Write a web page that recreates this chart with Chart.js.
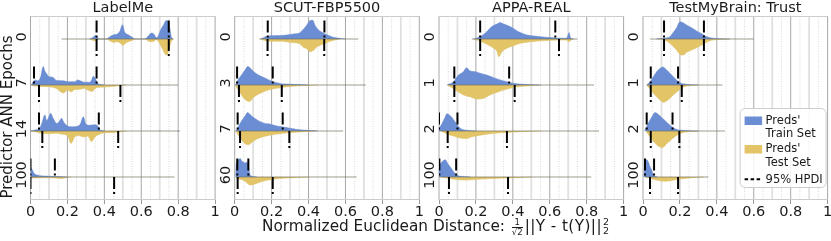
<!DOCTYPE html>
<html>
<head>
<meta charset="utf-8">
<script src="https://cdn.jsdelivr.net/npm/chart.js@4.4.1/dist/chart.umd.min.js"></script>
<style>
  html, body { margin: 0; padding: 0; background: #fff; overflow: hidden; }
  #wrap { position: relative; width: 831px; height: 241px; }
  canvas { position: absolute; top: 0; }
  #xtitle {
    position: absolute; left: 262px; top: 217px;
    font-family: 'DejaVu Sans'; font-size: 15.3px; color: #1a1a1a; white-space: nowrap;
  }
  .frac { display: inline-block; vertical-align: -0.45em; text-align: center; font-size: 8.5px; line-height: 8.5px; margin: 0 2px; }
  .frac span { display: block; }
  .frac .num { border-bottom: 0.8px solid #1a1a1a; padding: 0 1px; }
  .math { letter-spacing: 0.4px; }
  .ss { display: inline-block; vertical-align: -0.35em; font-size: 9.5px; line-height: 9px; margin-left: 1px; }
  .ss span { display: block; }
</style>
</head>
<body>
<div id="wrap">
  <canvas id="c0"></canvas>
  <canvas id="c1"></canvas>
  <canvas id="c2"></canvas>
  <canvas id="c3"></canvas>
  <div id="xtitle">Normalized Euclidean Distance: <span class="frac"><span class="num">1</span><span>&#8730;2</span></span><span class="math">||Y - t(Y)||</span><span class="ss"><span>2</span><span>2</span></span></div>
</div>
<script>
/* --------------------------------------------------
   Data: split violins (train above / test below)
   each curve = [[x, relative height], ...]
   -------------------------------------------------- */
var PANEL_TITLES = ['LabelMe', 'SCUT-FBP5500', 'APPA-REAL', 'TestMyBrain: Trust'];
var EPOCH_LABELS = [
  ['0', '7', '14', '100'],
  ['0', '3', '7', '60'],
  ['0', '1', '2', '100'],
  ['0', '1', '2', '100'],
];
var X_TICKS = [0, 0.2, 0.4, 0.6, 0.8, 1];
var X_TICK_LABELS = ['0', '0.2', '0.4', '0.6', '0.8', '1'];

// LabelMe
var labelmeTrain = [
  [[0.32,0],[0.34,0.08],[0.35,0.15],[0.365,0.05],[0.375,0],[0.41,0],[0.43,0.1],[0.45,0.18],[0.47,0.22],[0.485,0.35],[0.498,0.62],[0.51,0.3],[0.53,0.18],[0.55,0.08],[0.57,0],[0.62,0],[0.64,0.15],[0.655,0.26],[0.67,0.2],[0.683,0.05],[0.69,0.1],[0.705,0.4],[0.72,0.6],[0.735,0.8],[0.745,0.78],[0.755,0.45],[0.765,0.05],[0.775,0]],
  [[0.005,0],[0.015,0.15],[0.025,0.22],[0.04,0.18],[0.055,0.35],[0.069,0.8],[0.078,0.6],[0.087,0.5],[0.1,0.36],[0.12,0.34],[0.14,0.2],[0.18,0.18],[0.2,0.14],[0.24,0.14],[0.255,0.22],[0.27,0.18],[0.29,0.12],[0.32,0.12],[0.33,0.2],[0.34,0.38],[0.35,0.3],[0.36,0.12],[0.37,0.03],[0.4,0]],
  [[0,0],[0.03,0.05],[0.05,0.12],[0.06,0.3],[0.078,0.7],[0.088,0.45],[0.096,0.55],[0.109,0.77],[0.123,0.55],[0.141,0.33],[0.155,0.4],[0.168,0.55],[0.18,0.38],[0.195,0.25],[0.22,0.18],[0.25,0.2],[0.27,0.3],[0.286,0.62],[0.3,0.3],[0.32,0.25],[0.345,0.27],[0.36,0.25],[0.37,0.15],[0.38,0.03],[0.4,0]],
  [[0,0.4],[0.01,0.3],[0.02,0.15],[0.04,0.08],[0.08,0.04],[0.15,0.02],[0.2,0]],
];
var labelmeTest = [
  [[0.32,0],[0.35,0.08],[0.375,0],[0.41,0],[0.43,0.08],[0.45,0.15],[0.47,0.12],[0.49,0.2],[0.5,0.27],[0.52,0.15],[0.55,0.06],[0.57,0],[0.62,0],[0.64,0.1],[0.66,0.12],[0.683,0.03],[0.69,0.08],[0.71,0.35],[0.725,0.6],[0.735,0.7],[0.75,0.5],[0.76,0.15],[0.775,0]],
  [[0.005,0],[0.02,0.04],[0.06,0.06],[0.1,0.08],[0.14,0.15],[0.165,0.3],[0.18,0.35],[0.2,0.22],[0.22,0.3],[0.24,0.2],[0.27,0.18],[0.29,0.14],[0.31,0.22],[0.335,0.28],[0.35,0.15],[0.38,0.1],[0.42,0.08],[0.46,0.05],[0.49,0.02],[0.52,0]],
  [[0,0],[0.03,0.04],[0.06,0.1],[0.1,0.12],[0.14,0.1],[0.17,0.14],[0.2,0.2],[0.22,0.54],[0.24,0.25],[0.26,0.2],[0.29,0.26],[0.31,0.22],[0.33,0.46],[0.35,0.25],[0.37,0.15],[0.4,0.08],[0.45,0.06],[0.49,0.03],[0.52,0]],
  [[0,0.05],[0.03,0.04],[0.08,0.03],[0.13,0.04],[0.16,0.06],[0.18,0.05],[0.2,0.01],[0.22,0]],
];
var labelmeHpdiTrain = [[0.358,0.749],[0.019,0.358],[0.046,0.37],[0,0.132]];
var labelmeHpdiTest  = [[0.358,0.749],[0.046,0.487],[0.064,0.475],[0,0.453]];
var labelmeRange     = [[0.168,0.772],[0,0.8],[0,0.81],[0,0.78]];

// SCUT-FBP5500
var scutTrain = [
  [[0.14,0],[0.15,0.03],[0.165,0.1],[0.2,0.14],[0.25,0.15],[0.28,0.17],[0.32,0.22],[0.35,0.26],[0.363,0.35],[0.386,0.55],[0.408,0.8],[0.423,0.82],[0.435,0.6],[0.45,0.42],[0.47,0.3],[0.5,0.18],[0.525,0.1],[0.55,0.05],[0.6,0]],
  [[0.005,0],[0.01,0.1],[0.02,0.25],[0.038,0.45],[0.056,0.65],[0.07,0.8],[0.083,0.75],[0.1,0.6],[0.12,0.48],[0.137,0.4],[0.164,0.3],[0.19,0.2],[0.218,0.12],[0.245,0.07],[0.28,0.04],[0.355,0.02],[0.4,0]],
  [[0.008,0],[0.02,0.2],[0.038,0.45],[0.056,0.65],[0.07,0.8],[0.083,0.72],[0.1,0.6],[0.128,0.45],[0.155,0.35],[0.19,0.3],[0.227,0.22],[0.264,0.17],[0.3,0.12],[0.336,0.07],[0.39,0.03],[0.45,0]],
  [[0.005,0],[0.008,0.55],[0.02,0.75],[0.03,0.8],[0.038,0.7],[0.047,0.65],[0.056,0.6],[0.065,0.65],[0.074,0.5],[0.083,0.1],[0.1,0.02],[0.12,0]],
];
var scutTest = [
  [[0.14,0],[0.16,0.06],[0.2,0.1],[0.26,0.1],[0.3,0.15],[0.35,0.2],[0.37,0.35],[0.39,0.42],[0.408,0.55],[0.426,0.5],[0.444,0.35],[0.47,0.25],[0.5,0.15],[0.53,0.07],[0.57,0]],
  [[0.005,0],[0.01,0.1],[0.03,0.35],[0.047,0.55],[0.065,0.68],[0.08,0.72],[0.1,0.55],[0.128,0.4],[0.155,0.3],[0.19,0.2],[0.245,0.12],[0.3,0.06],[0.39,0.02],[0.45,0]],
  [[0.008,0],[0.02,0.2],[0.038,0.4],[0.056,0.55],[0.074,0.6],[0.092,0.5],[0.12,0.35],[0.155,0.25],[0.19,0.18],[0.245,0.12],[0.3,0.07],[0.355,0.04],[0.44,0]],
  [[0.005,0],[0.01,0.05],[0.03,0.1],[0.05,0.15],[0.065,0.25],[0.083,0.35],[0.11,0.3],[0.146,0.2],[0.19,0.12],[0.245,0.06],[0.32,0.03],[0.4,0]],
];
var scutHpdiTrain = [[0.179,0.486],[0.013,0.206],[0.016,0.26],[0.014,0.074]];
var scutHpdiTest  = [[0.178,0.485],[0.023,0.255],[0.029,0.296],[0.016,0.206]];
var scutRange     = [[0.134,0.67],[0,0.71],[0,0.588],[0.01,0.66]];

// APPA-REAL
var appaTrain = [
  [[0.187,0],[0.223,0.1],[0.259,0.32],[0.286,0.54],[0.314,0.65],[0.332,0.72],[0.341,0.68],[0.368,0.6],[0.395,0.5],[0.423,0.35],[0.45,0.25],[0.477,0.17],[0.513,0.13],[0.55,0.1],[0.6,0.06],[0.64,0.04],[0.69,0.03],[0.7,0.2],[0.705,0.28],[0.712,0.05],[0.73,0]],
  [[0.042,0],[0.078,0.14],[0.105,0.43],[0.132,0.58],[0.15,0.75],[0.168,0.61],[0.196,0.58],[0.223,0.51],[0.259,0.43],[0.296,0.32],[0.332,0.22],[0.368,0.14],[0.404,0.07],[0.46,0.03],[0.55,0]],
  [[0,0.1],[0.015,0.3],[0.033,0.6],[0.042,0.75],[0.056,0.7],[0.069,0.6],[0.087,0.4],[0.105,0.2],[0.123,0.08],[0.15,0.03],[0.2,0]],
  [[0,0.5],[0.015,0.65],[0.033,0.75],[0.05,0.55],[0.069,0.35],[0.087,0.15],[0.105,0.05],[0.13,0.02],[0.17,0]],
];
var appaTest = [
  [[0.19,0],[0.223,0.09],[0.259,0.23],[0.296,0.4],[0.315,0.55],[0.323,0.77],[0.341,0.55],[0.368,0.4],[0.404,0.29],[0.44,0.19],[0.495,0.12],[0.55,0.08],[0.62,0.05],[0.69,0.04],[0.705,0.12],[0.715,0.04],[0.73,0]],
  [[0.045,0],[0.06,0.07],[0.096,0.26],[0.132,0.43],[0.168,0.51],[0.205,0.61],[0.241,0.58],[0.277,0.43],[0.314,0.32],[0.35,0.22],[0.386,0.14],[0.422,0.08],[0.477,0.04],[0.55,0]],
  [[0.01,0],[0.024,0.05],[0.05,0.15],[0.078,0.22],[0.114,0.3],[0.15,0.33],[0.178,0.25],[0.223,0.18],[0.278,0.12],[0.33,0.08],[0.386,0.05],[0.477,0.02],[0.55,0]],
  [[0.01,0],[0.024,0.02],[0.06,0.07],[0.105,0.12],[0.15,0.13],[0.205,0.1],[0.26,0.08],[0.33,0.05],[0.42,0.03],[0.5,0]],
];
var appaHpdiTrain = [[0.223,0.63],[0.083,0.38],[0,0.1],[0.002,0.093]];
var appaHpdiTest  = [[0.223,0.65],[0.083,0.41],[0.047,0.368],[0.054,0.374]];
var appaRange     = [[0.178,0.75],[0.05,0.84],[0,0.867],[0,0.825]];

// TestMyBrain: Trust
var tmbTrain = [
  [[0.07,0],[0.1,0.02],[0.13,0.05],[0.146,0.1],[0.164,0.29],[0.182,0.49],[0.2,0.75],[0.215,0.72],[0.236,0.61],[0.263,0.49],[0.29,0.35],[0.318,0.23],[0.345,0.1],[0.372,0.04],[0.42,0.01],[0.47,0]],
  [[0.02,0],[0.038,0.14],[0.056,0.36],[0.074,0.58],[0.092,0.72],[0.107,0.78],[0.128,0.65],[0.146,0.51],[0.164,0.36],[0.182,0.22],[0.2,0.1],[0.227,0.04],[0.26,0.01],[0.3,0]],
  [[0.008,0],[0.012,0.05],[0.029,0.35],[0.047,0.6],[0.065,0.8],[0.083,0.72],[0.1,0.6],[0.12,0.45],[0.137,0.32],[0.155,0.2],[0.173,0.1],[0.2,0.04],[0.25,0.01],[0.3,0]],
  [[0.005,0],[0.007,0.3],[0.02,0.75],[0.029,0.65],[0.038,0.45],[0.047,0.3],[0.056,0.1],[0.065,0.02],[0.08,0]],
];
var tmbTest = [
  [[0.08,0],[0.11,0.03],[0.128,0.09],[0.146,0.19],[0.164,0.33],[0.182,0.48],[0.2,0.67],[0.218,0.7],[0.236,0.58],[0.263,0.48],[0.29,0.38],[0.318,0.26],[0.345,0.14],[0.372,0.05],[0.42,0.02],[0.47,0]],
  [[0.02,0],[0.038,0.17],[0.056,0.36],[0.074,0.51],[0.092,0.65],[0.11,0.75],[0.128,0.7],[0.146,0.58],[0.164,0.43],[0.182,0.32],[0.2,0.17],[0.227,0.06],[0.26,0.02],[0.3,0]],
  [[0.015,0],[0.02,0.05],[0.038,0.25],[0.056,0.45],[0.074,0.6],[0.092,0.7],[0.106,0.72],[0.128,0.55],[0.146,0.42],[0.164,0.3],[0.19,0.15],[0.218,0.06],[0.26,0.02],[0.3,0]],
  [[0.01,0],[0.02,0.02],[0.038,0.05],[0.056,0.1],[0.083,0.15],[0.12,0.19],[0.155,0.15],[0.19,0.1],[0.236,0.05],[0.29,0.02],[0.33,0]],
];
var tmbHpdiTrain = [[0.114,0.33],[0.042,0.19],[0.02,0.16],[0.011,0.06]];
var tmbHpdiTest  = [[0.114,0.33],[0.042,0.21],[0.042,0.197],[0.038,0.19]];
var tmbRange     = [[0.038,0.6],[0.02,0.43],[0.02,0.444],[0.01,0.354]];

/* --------------------------------------------------
   Style / layout
   -------------------------------------------------- */
var BLUE   = '#6a8dd3';
var YELLOW = '#e3c568';
var FONT   = 'DejaVu Sans';
var FONT_SIZE = 14.5;
var PLOT_LEFT  = [30.5, 234.7, 439, 643];
var PLOT_WIDTH = 184.6;
var HALF = 0.5;      // relative height 1 = half a row band
var HPDI_LEN = 0.4;  // length of the HPDI ticks in row units
var HPDI_DASH = [12, 3, 2, 3];

Chart.defaults.font.family = FONT;
Chart.defaults.color = '#1a1a1a';

// grid lines, frame, titles, rotated row labels, legend
var decorPlugin = {
  id: 'decor',
  beforeDatasetsDraw: function (chart) {
    var ctx = chart.ctx, a = chart.chartArea, xs = chart.scales.x;
    ctx.save();
    for (var i = 0; i <= 20; i++) {
      var px = xs.getPixelForValue(i * 0.05);
      ctx.beginPath();
      if (i % 4 === 0) {
        ctx.strokeStyle = '#a8a8a8'; ctx.lineWidth = 1; ctx.setLineDash([]);
      } else if (i % 2 === 0) {
        ctx.strokeStyle = '#e0e0e0'; ctx.lineWidth = 1.8; ctx.setLineDash([]);
      } else {
        ctx.strokeStyle = '#cfcfcf'; ctx.lineWidth = 0.8; ctx.setLineDash([1, 1.5]);
      }
      ctx.moveTo(px, a.top); ctx.lineTo(px, a.bottom); ctx.stroke();
    }
    ctx.setLineDash([]);
    ctx.strokeStyle = '#cccccc'; ctx.lineWidth = 1;
    ctx.beginPath();
    ctx.moveTo(a.left, a.top + 0.5); ctx.lineTo(a.right, a.top + 0.5);
    ctx.moveTo(a.left, a.bottom - 0.5); ctx.lineTo(a.right, a.bottom - 0.5);
    ctx.stroke();
    ctx.restore();
  },
  afterDraw: function (chart) {
    var ctx = chart.ctx, a = chart.chartArea, ys = chart.scales.y;
    var idx = chart.options.plugins.decor.panel;
    ctx.save();
    ctx.fillStyle = '#1a1a1a';
    ctx.font = FONT_SIZE + 'px "' + FONT + '"';
    ctx.textAlign = 'center';
    ctx.textBaseline = 'alphabetic';
    ctx.fillText(PANEL_TITLES[idx], (a.left + a.right) / 2, 12);

    // rotated epoch labels
    EPOCH_LABELS[idx].forEach(function (lab, r) {
      ctx.save();
      ctx.translate(a.left - 8.5, ys.getPixelForValue(r) - 2);
      ctx.rotate(-Math.PI / 2);
      ctx.textBaseline = 'middle';
      ctx.fillText(lab, 0, 0);
      ctx.restore();
    });

    if (idx === 0) {
      ctx.save();
      ctx.translate(8, 117);
      ctx.rotate(-Math.PI / 2);
      ctx.textBaseline = 'middle';
      ctx.font = '15px "' + FONT + '"';
      ctx.fillText('Predictor ANN Epochs', 0, 0);
      ctx.restore();
    }

    if (idx === 3) drawLegend(ctx, a);
    ctx.restore();
  },
};

function drawLegend(ctx, a) {
  var L = a.right - 87.5;
  ctx.save();
  ctx.beginPath();
  ctx.roundRect(L, 108.5, 86, 79, 5);
  ctx.fillStyle = 'rgba(255,255,255,0.85)';
  ctx.fill();
  ctx.strokeStyle = '#cccccc'; ctx.lineWidth = 1;
  ctx.stroke();

  ctx.fillStyle = BLUE;
  ctx.fillRect(L + 4.5, 116.5, 17.5, 8.5);
  ctx.fillStyle = YELLOW;
  ctx.fillRect(L + 4.5, 145, 17.5, 8.5);

  ctx.strokeStyle = '#000'; ctx.lineWidth = 2;
  ctx.setLineDash([3.5, 2.5]);
  ctx.beginPath();
  ctx.moveTo(L + 4.5, 179.3); ctx.lineTo(L + 22, 179.3);
  ctx.stroke();
  ctx.setLineDash([]);

  ctx.fillStyle = '#1a1a1a';
  ctx.font = '11.5px "' + FONT + '"';
  ctx.textAlign = 'left';
  ctx.textBaseline = 'alphabetic';
  ctx.fillText("Preds'", L + 25.5, 123.8);
  ctx.fillText('Train Set', L + 25.5, 137.2);
  ctx.fillText("Preds'", L + 25.5, 152.3);
  ctx.fillText('Test Set', L + 25.5, 165.8);
  ctx.fillText('95% HPDI', L + 25.5, 182.5);
  ctx.restore();
}

/* --------------------------------------------------
   One panel = one Chart.js line chart
   -------------------------------------------------- */
function hpdiSet(x, yTop, yBottom) {
  // drawn top -> bottom so the dash pattern starts at the upper end
  return {
    data: [{ x: x, y: yTop }, { x: x, y: yBottom }],
    borderColor: '#000', borderWidth: 2, borderDash: HPDI_DASH,
    pointRadius: 0, fill: false, order: 0,
  };
}

function makePanel(idx, train, test, hpdiTrain, hpdiTest, ranges) {
  var canvas = document.getElementById('c' + idx);
  var W = 222;
  var left = Math.max(0, Math.floor(PLOT_LEFT[idx]) - 30);
  canvas.width = W; canvas.height = 241;
  canvas.style.width = W + 'px'; canvas.style.height = '241px';
  canvas.style.left = left + 'px';
  var padLeft = PLOT_LEFT[idx] - left;
  var padRight = W - padLeft - PLOT_WIDTH;

  var datasets = [];
  for (var r = 0; r < 4; r++) {
    (function (r) {
      hpdiTrain[r].forEach(function (v) { datasets.push(hpdiSet(v, r - HPDI_LEN, r)); });
      hpdiTest[r].forEach(function (v) { datasets.push(hpdiSet(v, r, r + HPDI_LEN)); });
      // thin line spanning the full range
      datasets.push({
        data: [{ x: ranges[r][0], y: r }, { x: ranges[r][1], y: r }],
        borderColor: 'rgba(110,110,90,0.85)', borderWidth: 0.8,
        pointRadius: 0, fill: false, order: 1,
      });
      datasets.push({
        data: train[r].map(function (p) { return { x: p[0], y: r - HALF * p[1] }; }),
        backgroundColor: BLUE, borderColor: '#6486cc', borderWidth: 0.5,
        pointRadius: 0, cubicInterpolationMode: 'monotone', fill: { value: r }, order: 2,
      });
      datasets.push({
        data: test[r].map(function (p) { return { x: p[0], y: r + HALF * p[1] }; }),
        backgroundColor: YELLOW, borderColor: '#d9bc5e', borderWidth: 0.5,
        pointRadius: 0, cubicInterpolationMode: 'monotone', fill: { value: r }, order: 2,
      });
    })(r);
  }

  return new Chart(canvas, {
    type: 'line',
    data: { datasets: datasets },
    plugins: [decorPlugin],
    options: {
      responsive: false,
      animation: false,
      events: [],
      layout: { padding: { left: padLeft, right: padRight, top: 16, bottom: 0 } },
      plugins: {
        legend: { display: false },
        tooltip: { enabled: false },
        decor: { panel: idx },
      },
      scales: {
        x: {
          type: 'linear', min: 0, max: 1,
          afterBuildTicks: function (s) {
            s.ticks = X_TICKS.map(function (v) { return { value: v }; });
          },
          afterFit: function (s) { s.height = 41; },
          ticks: {
            autoSkip: false, maxRotation: 0, padding: 0,
            font: { size: FONT_SIZE }, color: '#1a1a1a',
            callback: function (v, i) { return X_TICK_LABELS[i]; },
          },
          grid: { drawOnChartArea: false, drawTicks: true, tickLength: 4, color: '#999' },
          border: { display: false },
        },
        y: {
          type: 'linear', min: -0.5, max: 3.5, reverse: true, display: false,
        },
      },
    },
  });
}

makePanel(0, labelmeTrain, labelmeTest, labelmeHpdiTrain, labelmeHpdiTest, labelmeRange);
makePanel(1, scutTrain, scutTest, scutHpdiTrain, scutHpdiTest, scutRange);
makePanel(2, appaTrain, appaTest, appaHpdiTrain, appaHpdiTest, appaRange);
makePanel(3, tmbTrain, tmbTest, tmbHpdiTrain, tmbHpdiTest, tmbRange);
</script>
</body>
</html>
